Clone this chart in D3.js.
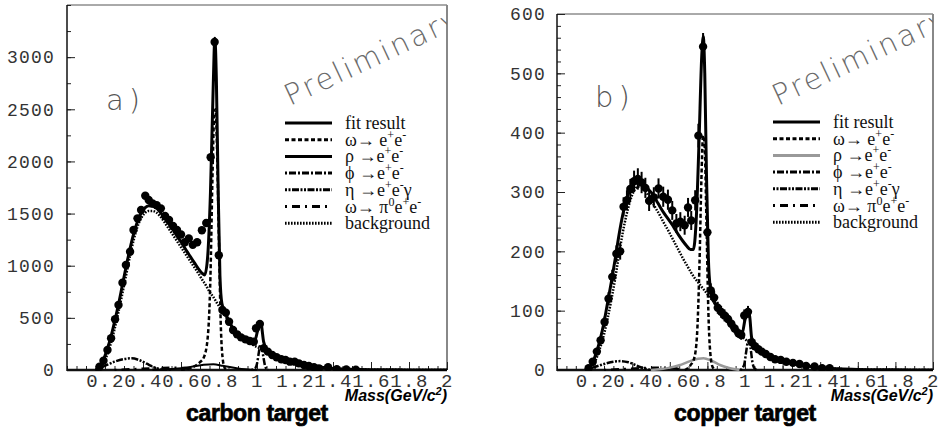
<!DOCTYPE html>
<html><head><meta charset="utf-8">
<script src="https://cdn.jsdelivr.net/npm/d3@7"></script>
<style>body{margin:0;background:#fff}</style></head>
<body>
<svg id="c" width="938" height="437"></svg>
<script>
// ---------- shared axis labels ----------
const xTickLabels = [0.2,0.4,0.6,0.8,1,1.2,1.4,1.6,1.8,2];
const yTickLabelsC = [0,500,1000,1500,2000,2500,3000];
const yTickLabelsU = [0,100,200,300,400,500,600];
const legendNames = ["fit result","ω→ e+e-","ρ →e+e-","ϕ →e+e-","η →e+e-γ","ω→ π0e+e-","background"];

// ---------- carbon target: data ----------
const dataC_m = [0.171,0.192,0.213,0.232,0.253,0.271,0.292,0.31,0.332,0.35,0.371,0.39,0.412,0.43,0.45,0.472,0.494,0.516,0.537,0.558,0.579,0.6,0.62,0.641,0.662,0.685,0.71,0.733,0.756,0.777,0.799,0.818,0.836,0.853,0.874,0.895,0.916,0.939,0.962,0.983,0.995,1.015,1.036,1.057,1.08,1.103,1.128,1.15,1.173,1.198,1.22,1.247,1.273,1.3,1.326,1.374,1.42,1.47,1.52];
const dataC_v = [32,89,192,304,486,623,837,1007,1134,1342,1454,1534,1671,1630,1598,1580,1550,1476,1438,1381,1342,1300,1225,1262,1200,1225,1340,1410,2040,3145,1100,575,550,463,384,342,313,294,278,271,400,441,208,176,144,122,103,96,80,80,64,48,38,26,16,26,8,5,3];

// carbon curves
const fitC_m = [0.15,0.17,0.19,0.21,0.23,0.25,0.27,0.29,0.31,0.33,0.35,0.37,0.39,0.41,0.43,0.45,0.47,0.49,0.51,0.53,0.55,0.57,0.59,0.61,0.63,0.65,0.67,0.69,0.71,0.725,0.74,0.755,0.77,0.778,0.786,0.795,0.805,0.815,0.83,0.85,0.87,0.89,0.91,0.93,0.95,0.97,0.99,1.005,1.02,1.035,1.05,1.07,1.09,1.11,1.13,1.15,1.2,1.25,1.3,1.35,1.4,1.5,1.6,1.8,2.0];
const fitC_v = [0,20,90,190,310,460,620,800,980,1150,1300,1420,1505,1555,1575,1570,1555,1515,1465,1415,1365,1310,1255,1200,1140,1085,1030,975,930,912,1080,1700,2750,3180,2800,1800,900,640,560,480,410,360,325,300,285,275,290,390,450,270,200,165,140,120,105,92,70,50,35,24,15,7,3,1,0];
const bgC_m = [0.15,0.17,0.19,0.21,0.23,0.25,0.27,0.29,0.31,0.33,0.35,0.37,0.39,0.41,0.43,0.45,0.47,0.49,0.51,0.53,0.55,0.57,0.59,0.61,0.63,0.65,0.67,0.69,0.71,0.73,0.75,0.77,0.79,0.81,0.83,0.85,0.9,0.95,1.0,1.05,1.1,1.15,1.2,1.25,1.3,1.35,1.4,1.5,1.6,1.8,2.0];
const bgC_v = [0,10,55,140,250,390,550,720,900,1080,1240,1370,1455,1505,1525,1525,1510,1475,1425,1370,1315,1260,1205,1150,1095,1040,985,930,870,815,750,700,640,585,530,465,335,270,220,180,122,88,66,48,33,23,14,7,3,1,0];
const omC_m = [0.6,0.65,0.68,0.7,0.72,0.74,0.755,0.765,0.775,0.782,0.79,0.8,0.81,0.82,0.83,0.84];
const omC_v = [0,20,45,75,120,300,900,1800,2450,2500,2100,1200,400,100,20,0];
const rhC_m = [0.45,0.55,0.65,0.72,0.77,0.82,0.9,1.0];
const rhC_v = [0,10,30,50,55,40,15,0];
const phC_m = [0.97,0.99,1.0,1.01,1.018,1.025,1.035,1.045,1.06];
const phC_v = [0,15,60,170,245,220,110,25,0];
const etC_m = [0.15,0.2,0.25,0.3,0.34,0.38,0.42,0.46,0.5,0.55];
const etC_v = [0,40,80,105,112,95,60,25,5,0];
const odC_m = [0.25,0.35,0.45,0.55,0.62,0.66];
const odC_v = [0,8,15,22,18,0];

// ---------- copper target: data ----------
const dataU_m = [0.168,0.19,0.212,0.232,0.253,0.274,0.294,0.316,0.336,0.354,0.372,0.39,0.41,0.43,0.45,0.47,0.49,0.515,0.54,0.565,0.59,0.613,0.635,0.656,0.679,0.697,0.714,0.735,0.752,0.777,0.8,0.818,0.836,0.855,0.873,0.891,0.909,0.927,0.945,0.965,0.98,0.996,1.016,1.036,1.053,1.071,1.089,1.11,1.135,1.16,1.19,1.22,1.255,1.29,1.325,1.37,1.41,1.45];
const dataU_v = [3,14,31,50,81,120,157,196,200,275,286,305,318,322,316,307,285,291,306,292,287,269,247,250,244,274,252,286,395,545,232,134,122,105,98,92,86,78,70,62,59,92,98,47,40,35,31,27,22,18,17,14,12,10,7,6,3,3];
const dataU_e = [2,4,6,7,9,11,12,14,14,16,17,17,18,18,18,17,17,17,17,17,17,16,16,16,16,16,16,17,20,23,15,12,11,10,10,10,9,9,8,8,8,10,10,7,6,6,6,5,5,4,4,4,3,3,3,2,2,2];

const fitU_m = [0.15,0.17,0.19,0.21,0.23,0.25,0.27,0.29,0.31,0.33,0.35,0.37,0.39,0.41,0.43,0.45,0.47,0.49,0.51,0.53,0.55,0.57,0.59,0.61,0.63,0.65,0.67,0.69,0.71,0.725,0.74,0.755,0.77,0.778,0.786,0.795,0.805,0.815,0.83,0.85,0.87,0.89,0.91,0.93,0.95,0.97,0.985,1.0,1.015,1.025,1.035,1.05,1.07,1.09,1.11,1.15,1.2,1.25,1.3,1.35,1.4,1.5,1.6,1.8,2.0];
const fitU_v = [0,3,13,30,52,80,115,150,188,228,262,288,305,315,318,316,310,303,296,285,274,264,255,246,236,226,217,209,203,203,250,380,530,562,500,330,190,140,122,108,98,90,82,74,67,61,62,85,100,90,55,42,35,30,26,20,16,12,8,6,4,2,1,0.3,0];
const bgU_m = [0.15,0.17,0.19,0.21,0.23,0.25,0.27,0.29,0.31,0.33,0.35,0.37,0.39,0.41,0.43,0.45,0.47,0.49,0.51,0.53,0.55,0.57,0.59,0.61,0.63,0.65,0.67,0.69,0.71,0.73,0.75,0.77,0.79,0.81,0.83,0.85,0.9,0.95,1.0,1.05,1.1,1.15,1.2,1.25,1.3,1.35,1.4,1.5,1.6,1.8,2.0];
const bgU_v = [0,2,8,20,38,60,88,120,155,195,232,262,286,302,309,308,302,292,281,270,259,247,236,224,212,200,188,177,166,156,148,140,132,124,116,106,85,66,52,40,28,20,15,11,8,5.5,3.8,1.8,0.8,0.2,0];
const omU_m = [0.68,0.71,0.73,0.745,0.758,0.768,0.777,0.785,0.795,0.805,0.815,0.828,0.845];
const omU_v = [0,8,20,60,180,320,395,380,250,100,30,5,0];
const rhU_m = [0.5,0.6,0.65,0.7,0.75,0.78,0.82,0.87,0.92,0.97];
const rhU_v = [0,4,8,14,19,20,16,8,3,0];
const phU_m = [0.975,0.995,1.005,1.015,1.022,1.03,1.04,1.05,1.065];
const phU_v = [0,8,28,47,50,36,12,3,0];
const etU_m = [0.15,0.2,0.25,0.3,0.34,0.38,0.42,0.46,0.5];
const etU_v = [0,5,10,14,15,13,8,3,0];
const odU_m = [0.25,0.35,0.45,0.55,0.62,0.66];
const odU_v = [0,1.5,3,4,3.5,0];

// ---------- drawing ----------
const svg = d3.select('#c');
const zip = (a,b) => a.map((m,i)=>({m:m, v:b[i]}));
const MONO = "'Liberation Mono','DejaVu Sans Mono',monospace";
const SERIF = "'Liberation Serif','Times New Roman',serif";
const SANS = "'Liberation Sans',Arial,sans-serif";

function drawPanel(p){
  const yBase = 370;
  const x = d3.scaleLinear().domain([0,2]).range([p.x0,p.x1]);
  const y = d3.scaleLinear().domain([0,p.yMax]).range([yBase,p.yTop]);
  const g = svg.append('g');
  const clipId = 'clip'+p.id;
  svg.append('clipPath').attr('id',clipId).append('rect')
    .attr('x',p.x0).attr('y',p.yTop-1).attr('width',p.x1-p.x0).attr('height',yBase-p.yTop+2);

  // frame
  g.append('line').attr('x1',p.x0).attr('x2',p.x1).attr('y1',p.yTop).attr('y2',p.yTop).attr('stroke','#555').attr('stroke-width',1);
  g.append('line').attr('x1',p.x1).attr('x2',p.x1).attr('y1',p.yTop).attr('y2',yBase).attr('stroke','#888').attr('stroke-width',2);

  // y ticks (inside)
  const yMinor = d3.range(0,p.yMax+0.001,p.yMinor);
  const yAxMin = g.append('g').attr('transform',`translate(${p.x0},0)`)
    .call(d3.axisRight(y).tickValues(yMinor).tickSize(4).tickFormat(''));
  const yAxMaj = g.append('g').attr('transform',`translate(${p.x0},0)`)
    .call(d3.axisRight(y).tickValues(p.yLabels).tickSize(8).tickFormat(''));
  const yAxLab = g.append('g').attr('transform',`translate(${p.x0},0)`)
    .call(d3.axisLeft(y).tickValues(p.yLabels).tickSize(0).tickPadding(p.x0-p.yLabelRight).tickFormat(d3.format('d')));
  [yAxMin,yAxMaj,yAxLab].forEach(a=>{a.select('.domain').remove(); a.selectAll('line').attr('stroke','#222').attr('stroke-width',1);});
  yAxLab.selectAll('text').attr('font-family',MONO).attr('font-size',18).attr('letter-spacing',1.2).attr('fill','#333');

  // x ticks (inside, pointing up)
  const xMinor = d3.range(0,2.0001,0.05);
  const xAxMin = g.append('g').attr('transform',`translate(0,${yBase})`)
    .call(d3.axisTop(x).tickValues(xMinor).tickSize(4).tickFormat(''));
  const xAxMaj = g.append('g').attr('transform',`translate(0,${yBase})`)
    .call(d3.axisTop(x).tickValues(xTickLabels).tickSize(8).tickFormat(''));
  const xAxLab = g.append('g').attr('transform',`translate(0,${yBase})`)
    .call(d3.axisBottom(x).tickValues(xTickLabels).tickSize(0).tickPadding(4).tickFormat(d3.format('~g')));
  [xAxMin,xAxMaj,xAxLab].forEach(a=>{a.select('.domain').remove(); a.selectAll('line').attr('stroke','#222').attr('stroke-width',1);});
  xAxLab.selectAll('text').attr('font-family',MONO).attr('font-size',19).attr('letter-spacing',1.5).attr('fill','#333');

  // axis lines
  g.append('line').attr('x1',p.x0).attr('x2',p.x0).attr('y1',p.yTop).attr('y2',yBase+1).attr('stroke','#111').attr('stroke-width',1.5);
  g.append('line').attr('x1',p.x0).attr('x2',p.x1).attr('y1',yBase).attr('y2',yBase).attr('stroke','#111').attr('stroke-width',2.5);

  // curves
  const line = d3.line().x(d=>x(d.m)).y(d=>y(d.v)).curve(d3.curveMonotoneX);
  const cg = g.append('g').attr('clip-path',`url(#${clipId})`);
  p.curves.forEach(c=>{
    cg.append('path').attr('d',line(c.data)).attr('fill','none')
      .attr('stroke',c.color).attr('stroke-width',c.w)
      .attr('stroke-dasharray',c.dash||null).attr('stroke-linejoin','round');
  });

  // data points
  const pts = p.points;
  if (p.err){
    cg.selectAll('line.err').data(pts).join('line').attr('class','err')
      .attr('x1',d=>x(d.m)).attr('x2',d=>x(d.m))
      .attr('y1',d=>y(d.v+d.e)).attr('y2',d=>y(Math.max(0,d.v-d.e)))
      .attr('stroke','#000').attr('stroke-width',2);
  }
  cg.selectAll('circle.pt').data(pts).join('circle').attr('class','pt')
    .attr('cx',d=>x(d.m)).attr('cy',d=>y(d.v)).attr('r',4.2).attr('fill','#000');

  // Preliminary watermark
  svg.append('g').attr('clip-path',`url(#${clipId})`)
    .append('text').text('Preliminary')
    .attr('transform',`translate(${p.prelX},${p.prelY}) rotate(-25)`)
    .attr('font-family',"'DejaVu Sans','Liberation Sans',sans-serif").attr('font-weight',200)
    .attr('font-size',29).attr('letter-spacing',2.5).attr('fill','#6a6a6a');

  // panel tag
  g.append('text').text(p.tag).attr('x',p.tagX).attr('y',p.tagY)
    .attr('font-family',"'DejaVu Sans','Liberation Sans',sans-serif").attr('font-weight',200)
    .attr('font-size',29).attr('letter-spacing',5).attr('fill','#555');

  // legend
  p.legend.forEach((L,i)=>{
    const yy = p.legY + i*16.7;
    g.append('line').attr('x1',p.legX0).attr('x2',p.legX1).attr('y1',yy).attr('y2',yy)
      .attr('stroke',L.color).attr('stroke-width',3).attr('stroke-dasharray',L.dash||null);
    const t = g.append('text').attr('x',p.legX1+13).attr('y',yy+6)
      .attr('font-family',SERIF).attr('font-size',18).attr('fill','#111');
    const name = legendNames[i];
    let segs = [];
    for (let k=0;k<name.length;k++){
      const ch = name[k];
      const sup = (ch==='+'||ch==='-'||ch==='0') && k>0 && (name[k-1]==='e'||name[k-1]==='π');
      if (segs.length && segs[segs.length-1].sup===sup) segs[segs.length-1].s += ch;
      else segs.push({s:ch,sup:sup});
    }
    let shifted = false;
    segs.forEach(sg=>{
      const ts = t.append('tspan').text(sg.s);
      if (sg.sup){ ts.attr('dy',-7).attr('font-size',12); shifted = true; }
      else if (shifted){ ts.attr('dy',7); shifted=false; }
    });
  });

  // axis title & panel title
  g.append('text').attr('x',p.x1).attr('y',401).attr('text-anchor','end')
    .attr('font-family',SANS).attr('font-weight','bold').attr('font-style','italic').attr('font-size',16)
    .call(t=>{ t.append('tspan').text('Mass(GeV/c');
               t.append('tspan').text('2').attr('dy',-6).attr('font-size',11);
               t.append('tspan').text(')').attr('dy',6); });
  g.append('text').text(p.title).attr('x',p.titleX).attr('y',421).attr('text-anchor','middle')
    .attr('font-family',SANS).attr('font-weight','bold').attr('font-size',23)
    .attr('stroke','#000').attr('stroke-width',0.7).attr('letter-spacing',-0.4);
}

function styles(rhoColor){
  return [
    {color:'#000', w:3, dash:null},
    {color:'#000', w:2.5, dash:'4,2.5'},
    {color:rhoColor, w:2.5, dash:null},
    {color:'#000', w:2.5, dash:'2,2,7,2'},
    {color:'#000', w:2.5, dash:'2,1.5,2,1.5,7,1.5'},
    {color:'#000', w:2.5, dash:'2,5,8,5'},
    {color:'#000', w:2.5, dash:'1.6,1.4'}
  ];
}

const stC = styles('#000');
drawPanel({
  id:'C', x0:67, x1:447, yTop:5, yMax:3500, yMinor:250, yLabels:yTickLabelsC, yLabelRight:55,
  points: zip(dataC_m,dataC_v), err:false,
  curves:[
    {data:zip(bgC_m,bgC_v), ...stC[6]},
    {data:zip(odC_m,odC_v), ...stC[5]},
    {data:zip(etC_m,etC_v), ...stC[4]},
    {data:zip(phC_m,phC_v), ...stC[3]},
    {data:zip(rhC_m,rhC_v), ...stC[2], w:2},
    {data:zip(fitC_m,fitC_v), ...stC[0]},
    {data:zip(omC_m,omC_v), ...stC[1]}
  ],
  legend: stC, legX0:285, legX1:332, legY:123,
  prelX:290, prelY:106, tag:'a)', tagX:106, tagY:110,
  title:'carbon target', titleX:257
});

const stU = styles('#999');
drawPanel({
  id:'U', x0:557, x1:933, yTop:14, yMax:600, yMinor:20, yLabels:yTickLabelsU, yLabelRight:546,
  points: dataU_m.map((m,i)=>({m:m, v:dataU_v[i], e:dataU_e[i]})), err:true,
  curves:[
    {data:zip(bgU_m,bgU_v), ...stU[6]},
    {data:zip(odU_m,odU_v), ...stU[5]},
    {data:zip(etU_m,etU_v), ...stU[4]},
    {data:zip(phU_m,phU_v), ...stU[3]},
    {data:zip(rhU_m,rhU_v), ...stU[2]},
    {data:zip(fitU_m,fitU_v), ...stU[0]},
    {data:zip(omU_m,omU_v), ...stU[1]}
  ],
  legend: stU, legX0:773, legX1:820, legY:122,
  prelX:778, prelY:106, tag:'b)', tagX:595, tagY:107,
  title:'copper target', titleX:745
});
</script>
</body></html>
